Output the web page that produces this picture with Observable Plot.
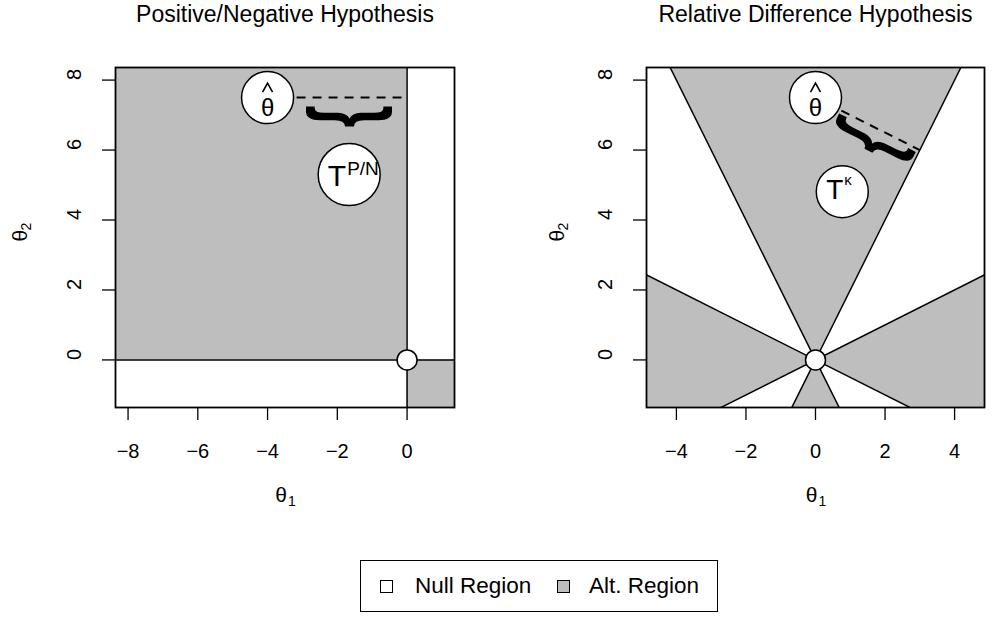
<!DOCTYPE html>
<html>
<head>
<meta charset="utf-8">
<script src="https://cdn.jsdelivr.net/npm/d3@7"></script>
<script src="https://cdn.jsdelivr.net/npm/@observablehq/plot@0.6"></script>
<style>
  html, body { margin: 0; padding: 0; background: #fff; }
  #wrap { position: relative; width: 1006px; height: 630px; background: #fff; font-family: "Liberation Sans", Arial, sans-serif; }
  .panel { position: absolute; top: 0; }
  #legend { position: absolute; left: 360px; top: 560px; width: 356px; height: 50px; border: 1.5px solid #000; box-sizing: content-box; }
  .sw { position: absolute; top: 19px; width: 13px; height: 13px; border: 1.5px solid #000; box-sizing: border-box; }
  .lab { position: absolute; top: 12px; font-size: 22.5px; line-height: 26px; color: #000; white-space: nowrap; }
</style>
</head>
<body>
<div id="wrap">
  <div id="left" class="panel" style="left:0px"></div>
  <div id="right" class="panel" style="left:503px"></div>
  <div id="legend">
    <div class="sw" style="left:19px;background:#fff"></div>
    <div class="lab" style="left:54px">Null Region</div>
    <div class="sw" style="left:196px;background:#bebebe"></div>
    <div class="lab" style="left:228px">Alt. Region</div>
  </div>
</div>
<script>
// ---------- data ----------
const panelTitles = ["Positive/Negative Hypothesis", "Relative Difference Hypothesis"];
const xLabel = "θ";          // θ1
const yLabel = "θ";          // θ2
const leftXLim = [-8, 1];
const rightXLim = [-4.5, 4.5];
const yLim = [-1, 8];
const leftXTicks = [-8, -6, -4, -2, 0];
const rightXTicks = [-4, -2, 0, 2, 4];
const yTicks = [0, 2, 4, 6, 8];
// relative-difference boundaries: |θ2| = kappa * |θ1|
const kappaSlopes = [0.5, 2];
// estimates
const thetaHatLeft = [-4, 7.5];
const thetaHatRight = [0, 7.5];
// label positions (data units)
const tLabelLeft = [-1.66, 5.3];
const tLabelRight = [0.77, 4.81];
const braceLeft = [-1.5, 6.96, 90];
const braceRight = [1.8, 6.17, 116.57];

// ---------- helpers ----------
const pad = ([a, b]) => [a - 0.04 * (b - a), b + 0.04 * (b - a)];
const xL = pad(leftXLim), xR = pad(rightXLim), yD = pad(yLim);
const GRAY = "#bebebe";
const FONT = "Liberation Sans, Arial, sans-serif";
const W = 503, H = 520;

// circumflex ("hat") accent as a custom dot symbol
const hatSymbol = {
  draw(ctx, size) {
    const r = Math.sqrt(size / Math.PI);
    ctx.moveTo(-r, r * 0.9);
    ctx.lineTo(0, -r * 0.9);
    ctx.lineTo(r, r * 0.9);
  }
};

function axes(xTicks, title) {
  return [
    Plot.axisX(xTicks, {tickSize: 13, tickFormat: () => "", label: null, strokeWidth: 1.3}),
    Plot.axisY(yTicks, {tickSize: 13, tickFormat: () => "", label: null, strokeWidth: 1.3}),
    Plot.text(xTicks, {x: d => d, frameAnchor: "bottom", dy: 44, text: d => String(d).replace("-", "\u2212"), fontSize: 20, lineAnchor: "middle", fontFamily: FONT}),
    Plot.text(yTicks, {y: d => d, frameAnchor: "left", dx: -41, rotate: -90, text: d => String(d), fontSize: 20, lineAnchor: "middle", fontFamily: FONT}),
    Plot.text([title], {frameAnchor: "top", dy: -53, text: d => d, fontSize: 23, lineAnchor: "middle", fontFamily: FONT}),
    // axis titles
    Plot.text([xLabel], {frameAnchor: "bottom", dy: 88, dx: -4, text: d => d, fontSize: 21, lineAnchor: "middle", fontFamily: FONT}),
    Plot.text(["1"], {frameAnchor: "bottom", dy: 94, dx: 7, text: d => d, fontSize: 14, lineAnchor: "middle", fontFamily: FONT}),
  ];
}
function yAxisTitle(dx) {
  return [
    Plot.text([yLabel], {frameAnchor: "left", dx: dx, dy: 4, rotate: -90, text: d => d, fontSize: 21, lineAnchor: "middle", fontFamily: FONT}),
    Plot.text(["2"], {frameAnchor: "left", dx: dx + 6, dy: -7, rotate: -90, text: d => d, fontSize: 14, lineAnchor: "middle", fontFamily: FONT}),
  ];
}
function thetaHat([x, y]) {
  return [
    Plot.dot([0], {x: () => x, y: () => y, r: 26, fill: "white", stroke: "black", strokeWidth: 1.5}),
    Plot.text(["θ"], {x: () => x, y: () => y, text: d => d, dy: 18, lineAnchor: "bottom", fontSize: 24, fontFamily: FONT}),
    Plot.dot([0], {x: () => x, y: () => y, dy: -10, r: 5, symbol: hatSymbol, fill: "none", stroke: "black", strokeWidth: 1.6}),
  ];
}
function brace([x, y, a]) {
  return Plot.text(["}"], {x: () => x, y: () => y, text: d => d, rotate: a, fontSize: 92, fontWeight: "bold", lineAnchor: "middle", fontFamily: FONT, className: "brace"});
}

// ---------- left panel ----------
const leftRegions = [
  {x1: xL[0], x2: 0, y1: 0, y2: yD[1]},
  {x1: 0, x2: xL[1], y1: yD[0], y2: 0}
];
const projLeft = [0, thetaHatLeft[1]];

const left = Plot.plot({
  width: W, height: H,
  marginLeft: 115, marginRight: 49, marginTop: 67, marginBottom: H - 407,
  x: {domain: xL}, y: {domain: yD},
  style: {fontFamily: FONT, background: "white", color: "black"},
  marks: [
    Plot.rect(leftRegions, {x1: "x1", x2: "x2", y1: "y1", y2: "y2", fill: GRAY}),
    Plot.ruleX([0], {stroke: "black", strokeWidth: 1.5}),
    Plot.ruleY([0], {stroke: "black", strokeWidth: 1.5}),
    Plot.link([0], {x1: () => thetaHatLeft[0], y1: () => thetaHatLeft[1], x2: () => projLeft[0], y2: () => projLeft[1], stroke: "black", strokeWidth: 2, strokeDasharray: "9,7", strokeDashoffset: 3}),
    ...thetaHat(thetaHatLeft),
    brace(braceLeft),
    Plot.dot([0], {x: () => tLabelLeft[0], y: () => tLabelLeft[1], r: 31, fill: "white", stroke: "black", strokeWidth: 1.5}),
    Plot.text(["T"], {x: () => tLabelLeft[0], y: () => tLabelLeft[1], text: d => d, dy: 11, dx: -3, textAnchor: "end", lineAnchor: "bottom", fontSize: 30, fontFamily: FONT}),
    Plot.text(["P/N"], {x: () => tLabelLeft[0], y: () => tLabelLeft[1], text: d => d, dy: 0, dx: -2, textAnchor: "start", lineAnchor: "bottom", fontSize: 19, fontFamily: FONT}),
    Plot.dot([0], {x: 0, y: 0, r: 10, fill: "white", stroke: "black", strokeWidth: 1.5}),
    Plot.frame({stroke: "black", strokeWidth: 1.8}),
    ...axes(leftXTicks, panelTitles[0]),
    ...yAxisTitle(-95)
  ]
});
document.getElementById("left").appendChild(left);

// ---------- right panel ----------
const lo = kappaSlopes[0], hi = kappaSlopes[1];
const xs3 = [xR[0], 0, xR[1]];
const sideWedge = xs3.map(x => ({x, y1: -lo * Math.abs(x), y2: lo * Math.abs(x)}));
const topWedge = [yD[1] / -hi, 0, yD[1] / hi].map(x => ({x, y1: hi * Math.abs(x), y2: yD[1]}));
const botWedge = [yD[0] / hi, 0, -yD[0] / hi].map(x => ({x, y1: -hi * Math.abs(x), y2: yD[0]}));
const boundaryLines = [];
for (const k of kappaSlopes) for (const s of [1, -1]) boundaryLines.push({k: k * s, pts: [xR[0] * 3, xR[1] * 3]});
const boundaryPts = boundaryLines.flatMap(l => l.pts.map(x => ({x, y: l.k * x, k: l.k})));
// perpendicular foot of thetaHatRight on θ2 = hi*θ1
const t = (thetaHatRight[0] + hi * thetaHatRight[1]) / (1 + hi * hi);
const projRight = [t, hi * t];

const right = Plot.plot({
  width: W, height: H,
  marginLeft: 143, marginRight: 22, marginTop: 67, marginBottom: H - 407,
  x: {domain: xR}, y: {domain: yD},
  style: {fontFamily: FONT, background: "white", color: "black"},
  marks: [
    Plot.areaY(sideWedge, {x: "x", y1: "y1", y2: "y2", fill: GRAY, clip: true}),
    Plot.areaY(topWedge, {x: "x", y1: "y1", y2: "y2", fill: GRAY, clip: true}),
    Plot.areaY(botWedge, {x: "x", y1: "y1", y2: "y2", fill: GRAY, clip: true}),
    Plot.line(boundaryPts, {x: "x", y: "y", z: "k", stroke: "black", strokeWidth: 1.5, clip: true}),
    Plot.link([0], {x1: () => thetaHatRight[0], y1: () => thetaHatRight[1], x2: () => projRight[0], y2: () => projRight[1], stroke: "black", strokeWidth: 2, strokeDasharray: "9,7", strokeDashoffset: 3}),
    ...thetaHat(thetaHatRight),
    brace(braceRight),
    Plot.dot([0], {x: () => tLabelRight[0], y: () => tLabelRight[1], r: 26, fill: "white", stroke: "black", strokeWidth: 1.5}),
    Plot.text(["T"], {x: () => tLabelRight[0], y: () => tLabelRight[1], text: d => d, dy: 7, dx: 1, textAnchor: "end", lineAnchor: "bottom", fontSize: 28, fontFamily: FONT}),
    Plot.text(["κ"], {x: () => tLabelRight[0], y: () => tLabelRight[1], text: d => d, dy: -7, dx: 2, textAnchor: "start", lineAnchor: "bottom", fontSize: 15, fontFamily: FONT}),
    Plot.dot([0], {x: 0, y: 0, r: 10, fill: "white", stroke: "black", strokeWidth: 1.5}),
    Plot.frame({stroke: "black", strokeWidth: 1.8}),
    ...axes(rightXTicks, panelTitles[1]),
    ...yAxisTitle(-89)
  ]
});
document.getElementById("right").appendChild(right);

// flatten the braces (compress glyph width)
document.querySelectorAll(".brace text").forEach(el => {
  const tr = el.getAttribute("transform") || "";
  el.setAttribute("transform", tr + " scale(0.62,1)");
});
</script>
</body>
</html>
